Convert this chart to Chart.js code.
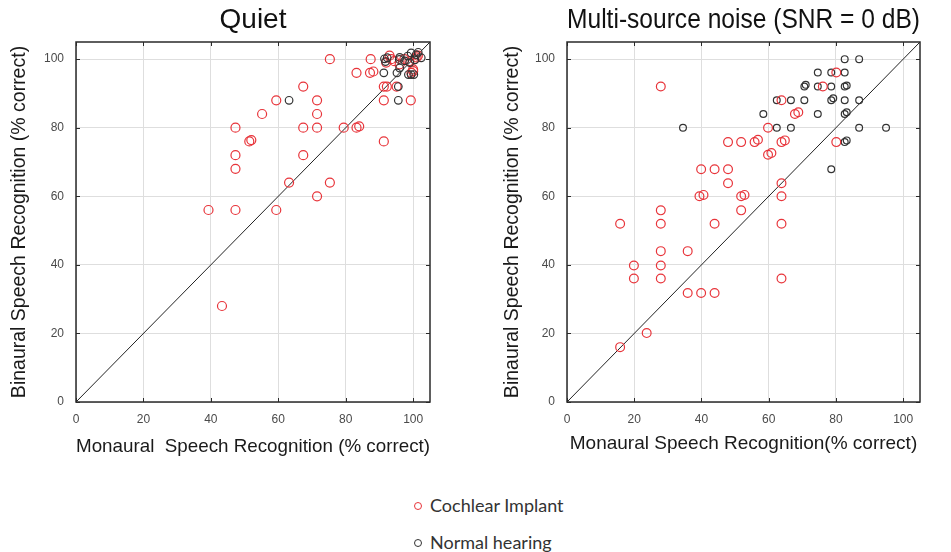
<!DOCTYPE html>
<html>
<head>
<meta charset="utf-8">
<script src="https://cdn.jsdelivr.net/npm/chart.js@4.4.1/dist/chart.umd.min.js"></script>
<style>
  html, body { margin:0; padding:0; background:#fff; }
  body { width:951px; height:552px; position:relative; overflow:hidden; }
  #c1 { position:absolute; left:0; top:0; }
  #c2 { position:absolute; left:495px; top:0; }
  .leg { position:absolute; font-family:Lato, "Noto Sans", sans-serif; font-size:18px; color:#333; white-space:nowrap; line-height:20px; }
  .leg .dot { display:inline-block; width:8px; height:8px; border-radius:50%; box-sizing:border-box; vertical-align:middle; margin-right:8px; position:relative; top:-1px; }
</style>
</head>
<body>
<canvas id="c1" width="460" height="470"></canvas>
<canvas id="c2" width="456" height="470"></canvas>
<div class="leg" style="left:414px; top:495px;"><span class="dot" style="border:1.3px solid #e8343a;"></span>Cochlear Implant</div>
<div class="leg" style="left:414px; top:532px;"><span class="dot" style="border:1.3px solid #333;"></span>Normal hearing</div>
<script>
// ---- Data ----
const tickValues = [0, 20, 40, 60, 80, 100];
const axisMax = 105;

// Quiet: Cochlear implant
const quietCiMonaural = [75.3, 87.4, 83.2, 87.2, 88.2, 67.4, 59.4, 71.5, 91.3, 99.3, 55.2, 71.5, 47.3, 67.4, 71.5, 79.4, 83.2, 84.0, 51.4, 52.0, 91.3, 47.3, 67.4, 47.3, 63.2, 75.3, 71.5, 39.3, 47.3, 59.4, 43.3, 91.3, 92.2, 95.1, 93.5, 94.4, 97.4, 98.9, 100.4, 101.4, 92.0, 96.0, 100.0, 99.5, 101.0, 93.0, 100.0];
const quietCiBinaural = [100, 100, 96, 96, 96.4, 92, 88, 88, 88, 88, 84, 84, 80, 80, 80, 80, 80, 80.4, 76, 76.4, 76, 72, 72, 68, 64, 64, 60, 56, 56, 56, 28, 92, 92, 92, 100, 99.4, 100, 99.4, 100, 101, 99, 98.5, 97, 96, 100.5, 101, 96.5];
// Quiet: Normal hearing
const quietNhMonaural = [63.2, 95.6, 95.6, 91.3, 95.2, 96.0, 98.6, 99.4, 100.2, 91.5, 92.3, 91.8, 95.9, 98.4, 99.4, 100.9, 102.4, 97.5, 100.5, 101.5, 96.0, 99.0];
const quietNhBinaural = [88, 88, 92, 96, 96, 97.4, 95.5, 95.5, 95.5, 100.1, 100.4, 99.3, 99.9, 100.9, 101.8, 101.3, 100.4, 99.5, 99.8, 102, 100.5, 99];

// Multi-source noise: Cochlear implant
const noiseCiMonaural = [27.9, 15.8, 15.8, 23.7, 19.9, 19.9, 27.9, 27.9, 27.9, 27.9, 27.9, 35.9, 35.9, 39.9, 43.9, 39.9, 43.9, 47.9, 47.9, 39.4, 40.6, 43.9, 47.9, 51.8, 51.8, 52.8, 51.8, 55.8, 56.8, 59.8, 60.8, 59.8, 63.8, 63.8, 64.8, 67.8, 68.8, 63.8, 63.8, 63.8, 63.8, 76.1, 80.1, 80.1];
const noiseCiBinaural = [92, 52, 16, 20.1, 39.8, 36, 55.9, 52, 44, 39.8, 36, 44, 31.8, 31.8, 31.8, 67.9, 67.9, 67.9, 63.8, 60, 60.4, 52, 75.8, 75.8, 60, 60.4, 55.9, 75.8, 76.5, 72.1, 72.6, 80, 88, 75.8, 76.3, 84, 84.5, 63.8, 60, 52, 36, 92, 96.1, 75.8];
// Multi-source noise: Normal hearing
const noiseNhMonaural = [34.5, 58.4, 62.4, 62.4, 66.6, 66.6, 70.6, 70.6, 71.0, 74.6, 74.6, 74.6, 78.6, 78.6, 78.6, 79.2, 78.6, 82.6, 86.9, 82.6, 82.6, 83.2, 82.6, 82.6, 83.2, 82.6, 83.2, 86.9, 86.9, 94.9];
const noiseNhBinaural = [80, 84, 88, 80, 88, 80, 88, 92, 92.5, 96.1, 92, 84, 96.1, 92, 88, 88.6, 67.9, 100, 100, 96.1, 92, 92.3, 88, 84, 84.5, 75.8, 76.3, 88, 80, 80];

const identityLine = [0, axisMax];

const RED = '#e8343a';
const DARK = '#333333';

function pts(xs, ys) { return xs.map((x, i) => ({ x: x, y: ys[i] })); }

const frameBox = {
  id: 'frameBox',
  afterDatasetsDraw(chart) {
    const { ctx, chartArea: a, scales } = chart;
    ctx.save();
    ctx.strokeStyle = '#2a2a2a';
    ctx.lineWidth = 1.5;
    ctx.strokeRect(a.left, a.top, a.right - a.left, a.bottom - a.top);
    ctx.lineWidth = 1;
    ctx.beginPath();
    scales.y.ticks.forEach(t => {
      const py = Math.round(scales.y.getPixelForValue(t.value)) + 0.5;
      ctx.moveTo(a.right, py); ctx.lineTo(a.right - 4, py);
      ctx.moveTo(a.left, py); ctx.lineTo(a.left + 4, py);
    });
    scales.x.ticks.forEach(t => {
      const px = Math.round(scales.x.getPixelForValue(t.value)) + 0.5;
      ctx.moveTo(px, a.top); ctx.lineTo(px, a.top + 4);
      ctx.moveTo(px, a.bottom); ctx.lineTo(px, a.bottom - 4);
    });
    ctx.stroke();
    ctx.restore();
  }
};

function makeChart(canvasId, title, xTitle, ciX, ciY, nhX, nhY, opts) {
  const ci = {
    label: 'Cochlear Implant', data: pts(ciX, ciY), showLine: false,
    pointStyle: 'circle', pointRadius: opts.ciR, pointBorderWidth: 1.2,
    pointBorderColor: RED, pointBackgroundColor: 'rgba(0,0,0,0)', pointHoverRadius: opts.ciR
  };
  const nh = {
    label: 'Normal hearing', data: pts(nhX, nhY), showLine: false,
    pointStyle: 'circle', pointRadius: opts.nhR, pointBorderWidth: 1.2,
    pointBorderColor: DARK, pointBackgroundColor: 'rgba(0,0,0,0)', pointHoverRadius: opts.nhR
  };
  const diag = {
    label: 'identity', data: pts(identityLine, identityLine), showLine: true,
    borderColor: '#222', borderWidth: 1, pointRadius: 0, fill: false
  };
  const datasets = opts.redOnTop ? [ci, nh, diag] : [nh, ci, diag];
  const fontFam = '"Liberation Sans", Arial, sans-serif';
  const tLH = 1.2 * opts.titleSize;
  return new Chart(document.getElementById(canvasId), {
    type: 'scatter',
    data: { datasets: datasets },
    options: {
      responsive: false, animation: false, devicePixelRatio: 1,
      layout: { padding: { left: 0, right: opts.padRight, top: 0, bottom: 0 } },
      plugins: {
        legend: { display: false }, tooltip: { enabled: false },
        title: {
          display: true, text: title, fullSize: false, color: '#111',
          font: { family: fontFam, size: opts.titleSize, weight: 'normal' },
          padding: { top: 20 - tLH / 2, bottom: 42 - (20 + tLH / 2) }
        }
      },
      scales: {
        x: {
          type: 'linear', min: 0, max: axisMax,
          afterBuildTicks: s => { s.ticks = tickValues.map(v => ({ value: v })); },
          afterFit: s => { s.height = 68; },
          grid: { color: '#dedede', lineWidth: 1, drawTicks: false },
          border: { display: false },
          ticks: { color: '#4a4a4a', padding: 10, font: { family: fontFam, size: 12 } },
          title: { display: true, text: xTitle, color: '#1a1a1a', padding: { top: 0, bottom: opts.xTitlePad },
                   font: { family: fontFam, size: 19 } }
        },
        y: {
          type: 'linear', min: 0, max: axisMax,
          afterBuildTicks: s => { s.ticks = tickValues.map(v => ({ value: v })); },
          afterFit: s => { s.width = opts.yWidth; },
          grid: { color: '#dedede', lineWidth: 1, drawTicks: false },
          border: { display: false },
          ticks: { color: '#4a4a4a', padding: 12, font: { family: fontFam, size: 12 } },
          title: { display: true, text: 'Binaural Speech Recognition (% correct)', color: '#1a1a1a',
                   padding: { top: opts.yTitlePad, bottom: 0 }, font: { family: fontFam, size: 19.5 } }
        }
      }
    },
    plugins: [frameBox]
  });
}

makeChart('c1', 'Quiet', 'Monaural  Speech Recognition (% correct)',
  quietCiMonaural, quietCiBinaural, quietNhMonaural, quietNhBinaural,
  { padRight: 30, yWidth: 76, yTitlePad: 8.3, xTitlePad: 11.6, titleSize: 28, ciR: 4.5, nhR: 3.8, redOnTop: false });
makeChart('c2', 'Multi-source noise (SNR = 0 dB)', 'Monaural Speech Recognition(% correct)',
  noiseCiMonaural, noiseCiBinaural, noiseNhMonaural, noiseNhBinaural,
  { padRight: 31, yWidth: 72, yTitlePad: 6.3, xTitlePad: 14.6, titleSize: 27.5, ciR: 4.4, nhR: 3.4, redOnTop: true });
</script>
</body>
</html>
